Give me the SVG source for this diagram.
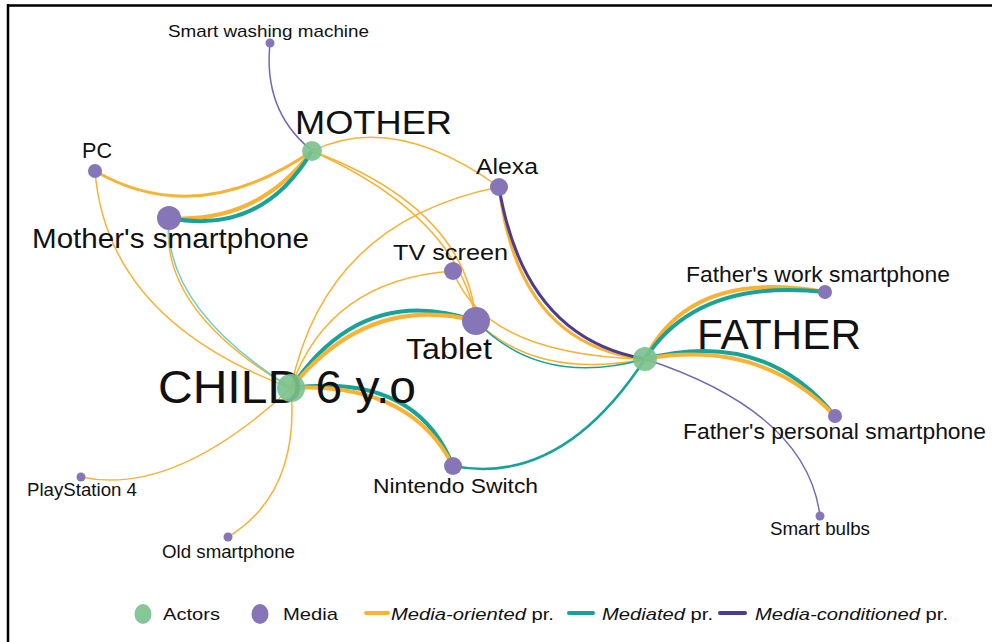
<svg xmlns="http://www.w3.org/2000/svg" width="992" height="642" viewBox="0 0 992 642">
<style>
text{font-family:"Liberation Sans",Arial,sans-serif;fill:#111}
.e{fill:none;stroke-linecap:round}
.y{stroke:#F9B233}
.t{stroke:#17A398}
.p{stroke:#4B3C93}
.lp{stroke:#7767B3}
.lt{stroke:#6CCFCB}
.w1{stroke-width:1.5}
.w2{stroke-width:2.5}
.w3{stroke-width:3}
.w4{stroke-width:4}
.actor{fill:#7CC28E;opacity:0.92}
.media{fill:#8675B7}
.lg{font-size:17px}
</style>
<rect width="992" height="642" fill="#fff"/>
<path d="M7,5.5 H992 M8,4 V642" stroke="#000" stroke-width="2.5" fill="none"/>

<g id="connectors">
  <path class="e lp w1" d="M270,43 Q263,110 310,149"/>
  <path class="e y w3" d="M95,171 Q197,230 312,151"/>
  <path class="e y w4" d="M169,218 Q257,224 312,151"/>
  <path class="e t w4" d="M169,218 Q262,236 312,151"/>
  <path class="e y w1" d="M312,151 Q394,111 499,187"/>
  <path class="e y w1" d="M312,151 Q466,208 476,321"/>
  <path class="e y w1" d="M312,151 Q458,216 476,321"/>
  <path class="e y w1" d="M453,271 Q485,355 645,359"/>
  <path class="e y w1" d="M476,321 Q538,380 645,359"/>
  <path class="e t w1" d="M476,321 Q541,388 645,359"/>
  <path class="e y w3" d="M499,187 Q518,346 645,359"/>
  <path class="e p w3" d="M499,187 Q524,338 645,359"/>
  <path class="e y w1" d="M499,187 Q325,222 291,388"/>
  <path class="e y w1" d="M453,271 Q328,280 291,388"/>
  <path class="e t w4" d="M291,388 Q362,282 476,321"/>
  <path class="e y w4" d="M291,388 Q368,293 476,321"/>
  <path class="e t w4" d="M291,388 Q416,372 453,466"/>
  <path class="e y w4" d="M291,388 Q410,382 453,466"/>
  <path class="e t w2" d="M453,466 Q561,487 645,359"/>
  <path class="e y w1" d="M169,218 Q158,310 291,388"/>
  <path class="e lt w1" d="M169,218 Q163,307 291,388"/>
  <path class="e y w1" d="M95,171 Q107,320 291,388"/>
  <path class="e y w1" d="M81,477 Q174,497 291,388"/>
  <path class="e y w1" d="M228,537 Q300,493 291,388"/>
  <path class="e y w4" d="M645,359 Q690,268 825,292"/>
  <path class="e t w4" d="M645,359 Q697,278 825,292"/>
  <path class="e t w4" d="M645,359 Q764,328 835,416"/>
  <path class="e y w4" d="M645,359 Q760,338 835,416"/>
  <path class="e lp w1" d="M645,359 Q807,412 820,516"/>
</g>

<g id="labels">
  <text x="168" y="37" font-size="17" textLength="201" lengthAdjust="spacingAndGlyphs">Smart washing machine</text>
  <text x="82" y="158" font-size="22" textLength="30" lengthAdjust="spacingAndGlyphs">PC</text>
  <text x="295" y="133.5" font-size="33" textLength="157" lengthAdjust="spacingAndGlyphs">MOTHER</text>
  <text x="476" y="173.5" font-size="22" textLength="62" lengthAdjust="spacingAndGlyphs">Alexa</text>
  <text x="32" y="247.5" font-size="28" textLength="277" lengthAdjust="spacingAndGlyphs">Mother's smartphone</text>
  <text x="393" y="260" font-size="22" textLength="115" lengthAdjust="spacingAndGlyphs">TV screen</text>
  <text x="686" y="281.5" font-size="22" textLength="264" lengthAdjust="spacingAndGlyphs">Father's work smartphone</text>
  <text x="697" y="348.5" font-size="42" textLength="164" lengthAdjust="spacingAndGlyphs">FATHER</text>
  <text x="406" y="359" font-size="30" textLength="86" lengthAdjust="spacingAndGlyphs">Tablet</text>
  <text x="158" y="403" font-size="47" textLength="258" lengthAdjust="spacingAndGlyphs">CHILD 6 y.o</text>
  <text x="683" y="438.5" font-size="22" textLength="303" lengthAdjust="spacingAndGlyphs">Father's personal smartphone</text>
  <text x="27" y="495.5" font-size="17.5" textLength="110" lengthAdjust="spacingAndGlyphs">PlayStation 4</text>
  <text x="373" y="493" font-size="21" textLength="165" lengthAdjust="spacingAndGlyphs">Nintendo Switch</text>
  <text x="162" y="558" font-size="17.5" textLength="133" lengthAdjust="spacingAndGlyphs">Old smartphone</text>
  <text x="770" y="535" font-size="17.5" textLength="100" lengthAdjust="spacingAndGlyphs">Smart bulbs</text>
</g>

<g id="n-washing"><circle class="media" cx="270" cy="43" r="4.5"/></g>
<g id="n-pc"><circle class="media" cx="95" cy="171" r="7"/></g>
<g id="n-msmart"><circle class="media" cx="169" cy="218" r="12"/></g>
<g id="n-alexa"><circle class="media" cx="499" cy="187" r="9"/></g>
<g id="n-tv"><circle class="media" cx="453" cy="271" r="9"/></g>
<g id="n-tablet"><circle class="media" cx="476" cy="321" r="14"/></g>
<g id="n-nintendo"><circle class="media" cx="453" cy="466" r="9"/></g>
<g id="n-ps4"><circle class="media" cx="81" cy="477" r="4.5"/></g>
<g id="n-oldsmart"><circle class="media" cx="228" cy="537" r="4.5"/></g>
<g id="n-fwork"><circle class="media" cx="825" cy="292" r="7"/></g>
<g id="n-fpersonal"><circle class="media" cx="835" cy="416" r="7"/></g>
<g id="n-bulbs"><circle class="media" cx="820" cy="516" r="4.5"/></g>
<g id="n-mother"><circle class="actor" cx="312" cy="151" r="10"/></g>
<g id="n-child"><circle class="actor" cx="291" cy="388" r="14"/></g>
<g id="n-father"><circle class="actor" cx="645" cy="359" r="12"/></g>

<g id="legend">
  <ellipse class="actor" cx="143" cy="614" rx="8.5" ry="10"/>
  <text class="lg" x="163" y="620" textLength="57" lengthAdjust="spacingAndGlyphs">Actors</text>
  <ellipse class="media" cx="260" cy="614" rx="8.5" ry="10"/>
  <text class="lg" x="283" y="620" textLength="55" lengthAdjust="spacingAndGlyphs">Media</text>
  <path class="e y" stroke-width="4" d="M366,613 H388"/>
  <text class="lg" x="391" y="620" textLength="163" lengthAdjust="spacingAndGlyphs"><tspan font-style="italic">Media-oriented</tspan> pr.</text>
  <path class="e t" stroke-width="4" d="M569,613 H593"/>
  <text class="lg" x="602" y="620" textLength="111" lengthAdjust="spacingAndGlyphs"><tspan font-style="italic">Mediated</tspan> pr.</text>
  <path class="e p" stroke-width="4" d="M720,613 H745"/>
  <text class="lg" x="755" y="620" textLength="193" lengthAdjust="spacingAndGlyphs"><tspan font-style="italic">Media-conditioned</tspan> pr.</text>
</g>
</svg>
